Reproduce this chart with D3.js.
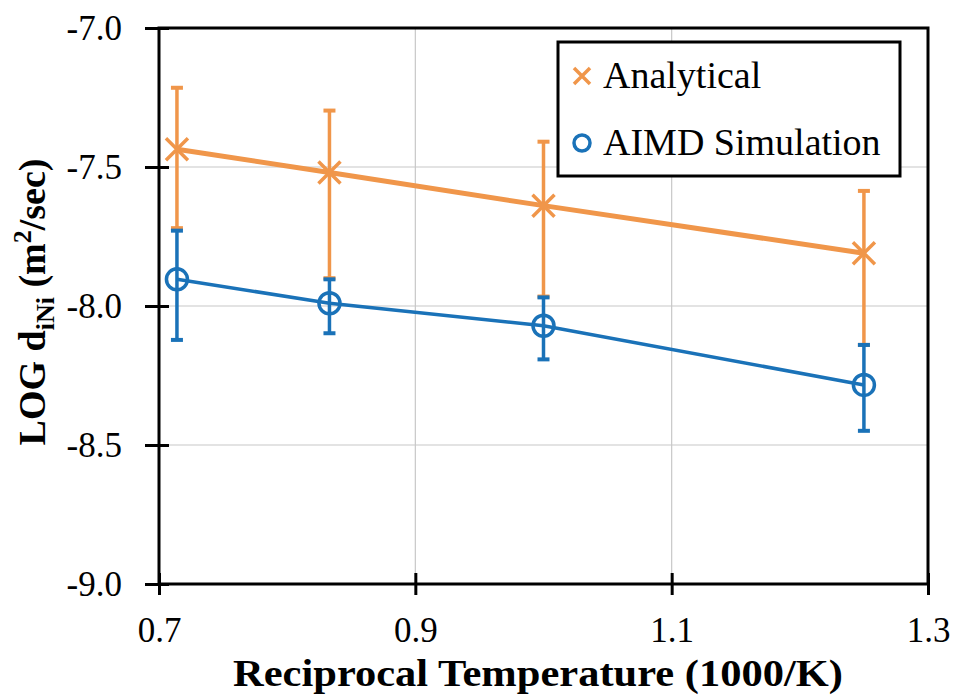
<!DOCTYPE html>
<html>
<head>
<meta charset="utf-8">
<script src="https://cdn.jsdelivr.net/npm/d3@7"></script>
<style>
  body { margin: 0; background: #fff; }
</style>
</head>
<body>
<div id="chart"></div>
<script>
// reciprocal temperature (1000/K)
var temps = [0.714, 0.833, 1.0, 1.25];

// analytical series, with upper / lower error bar ends
var analytical = [-7.436, -7.52, -7.639, -7.81];
var analyticalHi = [-7.215, -7.297, -7.409, -7.586];
var analyticalLo = [-7.72, -7.90, -7.966, -8.14];

// AIMD simulation series
var aimd = [-7.904, -7.99, -8.071, -8.284];
var aimdHi = [-7.729, -7.904, -7.969, -8.14];
var aimdLo = [-8.122, -8.098, -8.192, -8.449];

var xTicks = [0.7, 0.9, 1.1, 1.3];
var yTicks = [-7.0, -7.5, -8.0, -8.5, -9.0];

var serif = "'Liberation Serif', 'Times New Roman', serif";

function init()
{
    var w = 954;
    var h = 696;
    var orange = "#F0964A";
    var blue = "#1A72B8";

    var svg = d3.select("#chart")
        .append("svg")
        .attr("width", w)
        .attr("height", h);

    var xScale = d3.scaleLinear().domain([0.7, 1.3]).range([159, 928]);
    var yScale = d3.scaleLinear().domain([-9, -7]).range([584, 28]);

    // gridlines
    svg.append("g")
        .selectAll("line")
        .data(xTicks.slice(1, -1))
        .enter().append("line")
        .attr("x1", function(d) { return xScale(d); })
        .attr("x2", function(d) { return xScale(d); })
        .attr("y1", yScale(-7)).attr("y2", yScale(-9))
        .attr("stroke", "#c8c8c8").attr("stroke-width", 1.2);

    svg.append("g")
        .selectAll("line")
        .data(yTicks.slice(1, -1))
        .enter().append("line")
        .attr("y1", function(d) { return yScale(d); })
        .attr("y2", function(d) { return yScale(d); })
        .attr("x1", xScale(0.7)).attr("x2", xScale(1.3))
        .attr("stroke", "#c8c8c8").attr("stroke-width", 1.2);

    // plain hyphen for negatives, like the original
    var fmt = function(d) { return d3.format(".1f")(d).replace("\u2212", "-"); };

    var xAxis = d3.axisBottom(xScale)
        .tickValues(xTicks)
        .tickFormat(fmt)
        .tickSizeInner(11)
        .tickSizeOuter(0)
        .tickPadding(22);

    var yAxis = d3.axisLeft(yScale)
        .tickValues(yTicks)
        .tickFormat(fmt)
        .tickSizeInner(12)
        .tickSizeOuter(0)
        .tickPadding(8);

    var gx = svg.append("g")
        .attr("transform", "translate(0," + yScale(-9) + ")")
        .call(xAxis);
    var gy = svg.append("g")
        .attr("transform", "translate(" + xScale(0.7) + ",0)")
        .call(yAxis);

    [gx, gy].forEach(function(g) {
        g.attr("font-family", null).attr("font-size", null);
        g.select(".domain").remove();
        g.selectAll(".tick line").attr("stroke", "#000").attr("stroke-width", 3);
        g.selectAll(".tick text")
            .attr("fill", "#000")
            .style("font-family", serif)
            .style("font-size", "35px");
    });
    // ticks cross the axis
    gx.selectAll(".tick line").attr("y1", -11);
    gy.selectAll(".tick line").attr("x1", 10).attr("x2", -14);
    gy.selectAll(".tick text").attr("x", -37).attr("dy", "0.34em");
    gx.selectAll(".tick text").attr("dy", "0.72em");

    // frame
    svg.append("rect")
        .attr("x", xScale(0.7)).attr("y", yScale(-7))
        .attr("width", xScale(1.3) - xScale(0.7))
        .attr("height", yScale(-9) - yScale(-7))
        .attr("fill", "none").attr("stroke", "#000").attr("stroke-width", 3);

    var series = [
        { name: "Analytical", vals: analytical, hi: analyticalHi, lo: analyticalLo, color: orange, lw: 5, marker: "x" },
        { name: "AIMD Simulation", vals: aimd, hi: aimdHi, lo: aimdLo, color: blue, lw: 3.5, marker: "o" }
    ];

    var line = d3.line()
        .x(function(d) { return xScale(d[0]); })
        .y(function(d) { return yScale(d[1]); });

    function drawMarker(g, type, color, size) {
        if (type === "x") {
            g.append("path")
                .attr("d", "M" + (-size) + "," + (-size) + "L" + size + "," + size +
                           "M" + (-size) + "," + size + "L" + size + "," + (-size))
                .attr("stroke", color).attr("stroke-width", 3.5).attr("fill", "none");
        } else {
            g.append("circle")
                .attr("r", size)
                .attr("stroke", color).attr("stroke-width", 3.5).attr("fill", "none");
        }
    }

    series.forEach(function(s) {
        var pts = temps.map(function(t, i) { return [t, s.vals[i]]; });

        var g = svg.append("g");

        // error bars
        temps.forEach(function(t, i) {
            var x = xScale(t);
            g.append("line")
                .attr("x1", x).attr("x2", x)
                .attr("y1", yScale(s.hi[i])).attr("y2", yScale(s.lo[i]))
                .attr("stroke", s.color).attr("stroke-width", 3.5);
            [s.hi[i], s.lo[i]].forEach(function(v) {
                g.append("line")
                    .attr("x1", x - 6).attr("x2", x + 6)
                    .attr("y1", yScale(v)).attr("y2", yScale(v))
                    .attr("stroke", s.color).attr("stroke-width", 4);
            });
        });

        g.append("path")
            .datum(pts)
            .attr("d", line)
            .attr("fill", "none")
            .attr("stroke", s.color)
            .attr("stroke-width", s.lw);

        pts.forEach(function(p) {
            var m = g.append("g")
                .attr("transform", "translate(" + xScale(p[0]) + "," + yScale(p[1]) + ")");
            drawMarker(m, s.marker, s.color, s.marker === "x" ? 11 : 10.5);
        });
    });

    // legend
    var lg = svg.append("g");
    lg.append("rect")
        .attr("x", 558).attr("y", 42)
        .attr("width", 342).attr("height", 134)
        .attr("fill", "#fff").attr("stroke", "#000").attr("stroke-width", 3);

    series.forEach(function(s, i) {
        var cy = 76 + i * 67;
        var m = lg.append("g").attr("transform", "translate(582," + cy + ")");
        drawMarker(m, s.marker, s.color, 8);
        lg.append("text")
            .attr("x", 603).attr("y", cy + 12)
            .style("font-family", serif)
            .style("font-size", "38px")
            .text(s.name);
    });

    // axis titles
    svg.append("text")
        .attr("x", 538)
        .attr("y", 686)
        .attr("text-anchor", "middle")
        .style("font-family", serif)
        .style("font-size", "37px")
        .style("font-weight", "bold")
        .attr("textLength", 610)
        .attr("lengthAdjust", "spacingAndGlyphs")
        .text("Reciprocal Temperature (1000/K)");

    var yt = svg.append("text")
        .attr("transform", "translate(45,302) rotate(-90)")
        .attr("text-anchor", "middle")
        .style("font-family", serif)
        .style("font-size", "38px")
        .style("font-weight", "bold");
    yt.append("tspan").text("LOG d");
    yt.append("tspan").attr("dy", 9).style("font-size", "26px").text("iNi");
    yt.append("tspan").attr("dy", -9).text(" (m");
    yt.append("tspan").attr("dy", -14).style("font-size", "26px").text("2");
    yt.append("tspan").attr("dy", 14).text("/sec)");
}

window.onload = init;
</script>
</body>
</html>
